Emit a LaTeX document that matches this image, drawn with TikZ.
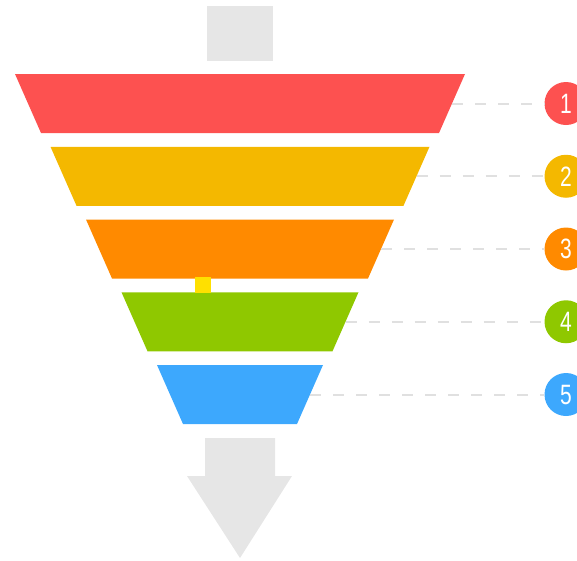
\documentclass[tikz,border=0pt]{standalone}
\usepackage{fontspec}
\setmainfont{Liberation Sans}
\definecolor{cRed}{HTML}{FD5150}
\definecolor{cYel}{HTML}{F4B800}
\definecolor{cOra}{HTML}{FF8A00}
\definecolor{cGre}{HTML}{8FC800}
\definecolor{cBlu}{HTML}{3DA8FD}
\definecolor{cGray}{HTML}{E6E6E6}
\definecolor{cDash}{HTML}{E0E0E0}
\definecolor{cDot}{HTML}{FFE000}
\begin{document}
\begin{tikzpicture}[x=1pt,y=-1pt,
  numdot/.style={circle,inner sep=0pt,minimum size=43pt,text=white,
    font=\fontsize{28}{28}\selectfont},
  dashline/.style={draw=cDash,line width=2pt,dash pattern=on 11pt off 12pt},
  bandfill/.style={fill=#1},
  arrowfill/.style={fill=cGray}]
\useasboundingbox (0,0) rectangle (577,560);
% top gray square
\fill[arrowfill] (207,6) rectangle (273,61);
% bands
\foreach \k/\bcol/\num in {0/cRed/1,1/cYel/2,2/cOra/3,3/cGre/4,4/cBlu/5}{
  \pgfmathsetmacro\ytop{74+72.75*\k}
  \pgfmathsetmacro\ybot{\ytop+59}
  \pgfmathsetmacro\ymid{\ytop+29.5}
  \pgfmathsetmacro\halftop{225-35.5*\k}
  \pgfmathsetmacro\halfbot{\halftop-26}
  \pgfmathsetmacro\xedge{240+(\halftop+\halfbot)/2}
  \fill[bandfill=\bcol] ({240-\halftop},\ytop) -- ({240+\halftop},\ytop)
    -- ({240+\halfbot},\ybot) -- ({240-\halfbot},\ybot) -- cycle;
  \coordinate (e\num) at (\xedge,\ymid);
  \node[numdot,fill=\bcol] (n\num) at (566,\ymid) {\scalebox{0.75}[1]{\num}};
  \draw[dashline] (e\num) -- (n\num);
}
% small yellow connector square
\fill[cDot] (195,277) rectangle (211,293);
% bottom arrow
\fill[arrowfill] (205,438) -- (275,438) -- (275,476) -- (292,476) -- (240,558)
  -- (187,476) -- (205,476) -- cycle;
\end{tikzpicture}
\end{document}
